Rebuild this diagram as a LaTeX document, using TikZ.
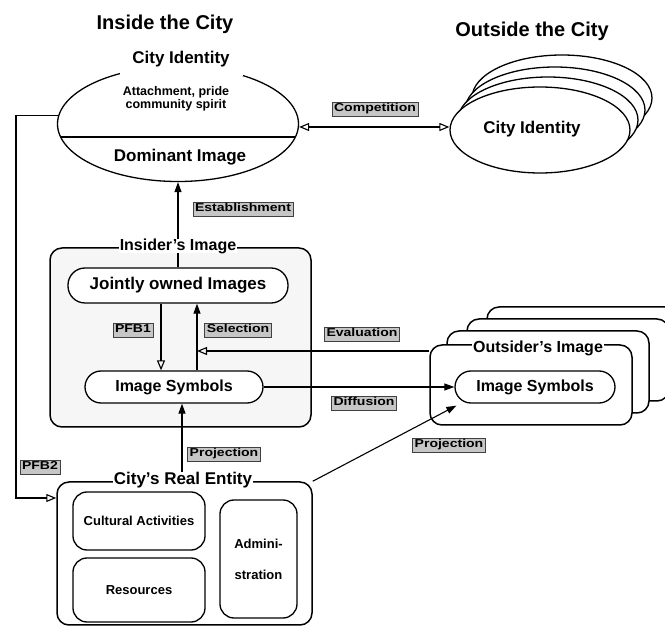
\documentclass[tikz,border=0pt]{standalone}
\usepackage{fontspec}
\setmainfont{Liberation Sans}
\newfontfamily\widefont[FakeStretch=1.22]{Liberation Sans}
\usetikzlibrary{shapes.geometric,arrows.meta}

\tikzset{
  heading/.style={font=\fontsize{20}{24}\selectfont\bfseries},
  big/.style={font=\fontsize{17}{20}\selectfont\bfseries},
  mid/.style={font=\fontsize{16}{19}\selectfont\bfseries},
  small/.style={font=\fontsize{13}{15}\selectfont\bfseries},
  pill/.style={draw, line width=1.3pt, rounded corners=16pt, fill=white, inner sep=0pt},
  panel/.style={draw, line width=1.5pt, rounded corners=12pt, inner sep=0pt},
  subbox/.style={draw, line width=1.3pt, rounded corners=14pt, inner sep=0pt, small},
  tag/.style={draw=black!75, fill=gray!45, line width=0.8pt, inner xsep=2pt, inner ysep=1.5pt,
    text height=8.5pt, text depth=2.5pt, font=\widefont\fontsize{11.5}{13}\selectfont\bfseries},
  conn/.style={line width=1.1pt},
  openhead/.style={-{Triangle[open,length=10pt,width=8pt]}},
  solidhead/.style={-{Triangle[length=10pt,width=7pt]}},
  bothopen/.style={{Triangle[open,length=10pt,width=8pt]}-{Triangle[open,length=10pt,width=8pt]}},
  cloud/.style={draw, ellipse, line width=1.3pt, fill=white, minimum width=180pt, minimum height=86pt, inner sep=0pt},
}

\begin{document}
\begin{tikzpicture}[x=1pt,y=-1pt]
\useasboundingbox (0,0) rectangle (665,628);

% column headings
\node[heading] (inside) at (165,24) {Inside the City};
\node[heading] (outside) at (532,31) {Outside the City};

% inner city identity ellipse with its divider
\node[draw, ellipse, line width=1.3pt, minimum width=241pt, minimum height=115pt, inner sep=0pt] (inner) at (178,124) {};
\begin{scope}
  \clip (178,124) ellipse [x radius=120.5, y radius=57.5];
  \draw[line width=1.3pt] (50,137) -- (310,137);
\end{scope}
\fill[white] (120,46) rectangle (243,76);
\node[big] (cityid) at (181,59) {City Identity};
\node[small, align=center, font=\fontsize{12.5}{13.5}\selectfont\bfseries] (attach) at (176,99) {Attachment, pride\\community spirit};
\node[big] (dominant) at (180,157) {Dominant Image};

% stack of outside identities
\node[cloud] (cloud4) at (562,98) {};
\node[cloud] (cloud3) at (555,110) {};
\node[cloud] (cloud2) at (548,120) {};
\node[cloud] (outer) at (540,130) {};
\node[big] (outerid) at (532,129) {City Identity};

% insider's image panel
\node[panel, fill=gray!7, minimum width=261pt, minimum height=179pt] (insider) at (180.5,337.5) {};
\node[pill, mid, font=\fontsize{17}{20}\selectfont\bfseries, minimum width=220pt, minimum height=35pt, rounded corners=17pt] (jointly) at (178,285.5) {Jointly owned Images};
\node[pill, mid, minimum width=178pt, minimum height=32pt] (symin) at (174,387) {Image Symbols};

% outsider's image stack
\node[panel, fill=white, minimum width=202pt, minimum height=82pt] (outback3) at (588,348) {};
\node[panel, fill=white, minimum width=202pt, minimum height=82pt] (outback2) at (568,360) {};
\node[panel, fill=white, minimum width=202pt, minimum height=82pt] (outback1) at (548,372) {};
\node[panel, fill=white, minimum width=202pt, minimum height=80pt] (outfront) at (531,385) {};
\node[pill, mid, minimum width=160pt, minimum height=32pt] (symout) at (535,387) {Image Symbols};

% city's real entity panel
\node[panel, minimum width=255pt, minimum height=143pt] (real) at (184.5,553.5) {};
\node[subbox, minimum width=132pt, minimum height=58pt] (cult) at (139,521) {Cultural Activities};
\node[subbox, minimum width=132pt, minimum height=64pt] (res) at (139,590) {Resources};
\node[subbox, minimum width=77pt, minimum height=118pt, align=center] (adm) at (258.5,559) {Admini-\\[16pt]stration};

% connectors
\draw[conn, bothopen] ([yshift=-3pt]inner.east) -- ([yshift=3pt]outer.west);
\draw[conn, solidhead] (jointly.north) -- (inner.south);
\coordinate (pfbA) at ([xshift=-17pt]jointly.south);
\coordinate (selA) at ([xshift=19pt]jointly.south);
\draw[conn, openhead] (pfbA) -- (pfbA |- symin.north);
\draw[conn, solidhead] (selA |- symin.north) -- (selA);
\draw[conn, openhead] ([yshift=34pt]outfront.west) -- ([yshift=34pt]outfront.west -| selA);
\draw[conn, solidhead] (symin.east) -- (symout.west);
\draw[conn, solidhead] ([xshift=-2.5pt]real.north) -- ([xshift=-2.5pt]real.north |- symin.south);
\draw[conn, solidhead] (real.north east) -- ([shift={(2pt,-2pt)}]symout.south west);
\coordinate (pfbturn) at (16,498);
\draw[conn, openhead] (inner.176) -| (pfbturn) -- ([yshift=55.5pt]real.west);

% panel titles sitting on the borders
\node[mid, fill=white, inner xsep=1pt, inner ysep=0pt] (insidertitle) at (178,246) {Insider's Image};
\node[mid, fill=white, inner xsep=1pt, inner ysep=0pt] (outsidertitle) at (538,348) {Outsider's Image};
\node[big, fill=white, inner xsep=1pt, inner ysep=0pt] (realtitle) at (183,480) {City's Real Entity};

% connector tags
\node[tag] (tcomp) at (375,109) {Competition};
\node[tag] (testab) at (243,209) {Establishment};
\node[tag] (tpfb1) at (133,330) {PFB1};
\node[tag] (tsel) at (238,330) {Selection};
\node[tag] (teval) at (362,334) {Evaluation};
\node[tag] (tdiff) at (364,403) {Diffusion};
\node[tag] (tproj1) at (224,454) {Projection};
\node[tag] (tproj2) at (449,445) {Projection};
\node[tag] (tpfb2) at (40,467) {PFB2};
\end{tikzpicture}
\end{document}
